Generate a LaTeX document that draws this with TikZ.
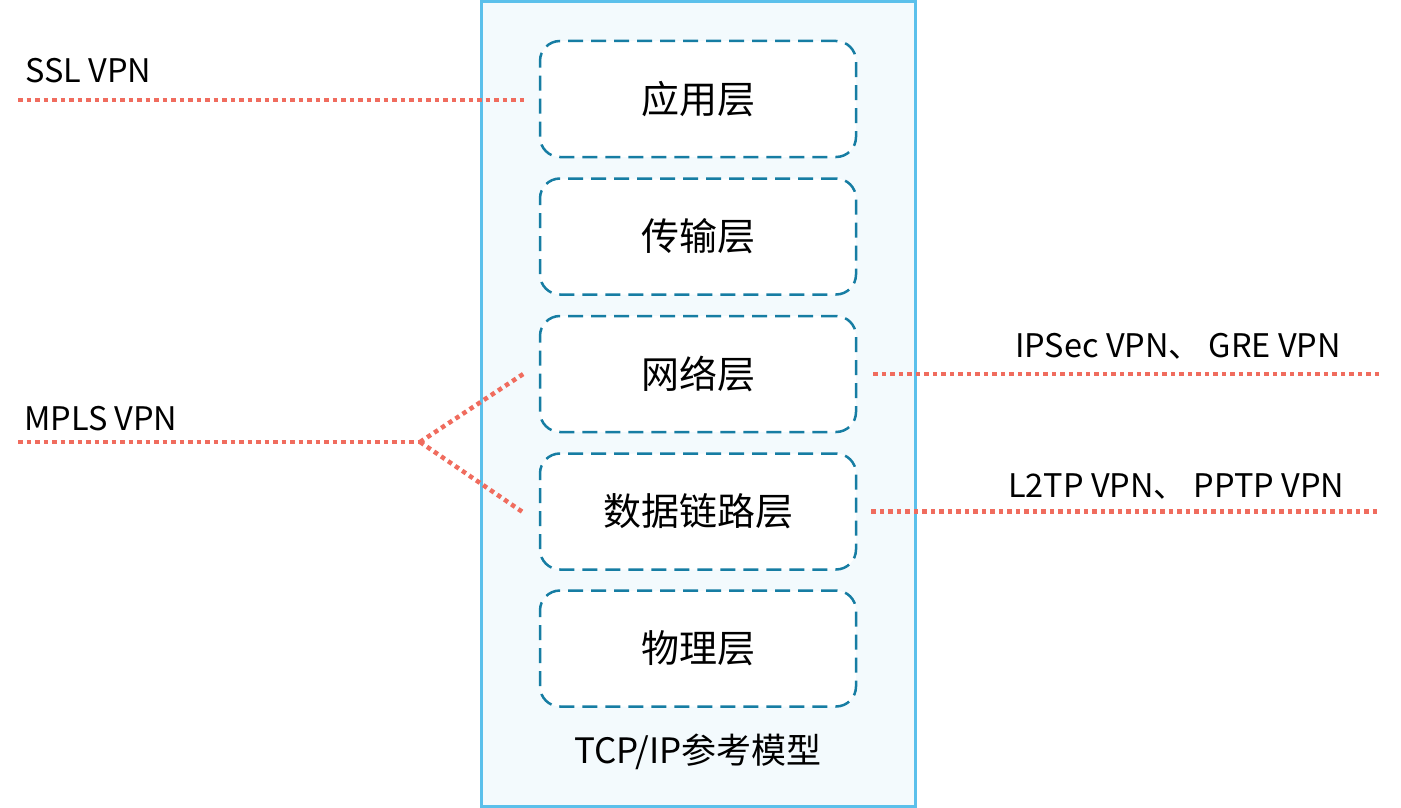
\documentclass[tikz,border=0pt]{standalone}
\usepackage{fontspec}
\setmainfont{Noto Sans CJK SC}
\usetikzlibrary{positioning, calc}

\definecolor{modelborder}{RGB}{91,192,235}
\definecolor{modelfill}{RGB}{243,250,253}
\definecolor{layerborder}{RGB}{22,125,163}
\definecolor{vpnred}{RGB}{240,108,94}

\begin{document}
\begin{tikzpicture}[
			x=1pt, y=-1pt,
			model/.style={rectangle, draw=modelborder, line width=3pt, fill=modelfill, minimum width=434pt, minimum height=804pt},
			layer/.style={rectangle, rounded corners=20pt, draw=layerborder, line width=2.5pt, dash pattern=on 15pt off 8pt, fill=white, minimum width=316pt, minimum height=116pt, align=center, font=\fontsize{38}{40}\selectfont},
			vpnline/.style={draw=vpnred, line width=4.5pt, dash pattern=on 4.5pt off 4pt},
			vpnlabel/.style={anchor=base west, inner sep=0pt, font=\fontsize{32.5}{36}\selectfont}
			]
			
			\useasboundingbox (0,0) rectangle (1401,808);
			
			% TCP/IP model and its layers
			\node[model] (tcpip) at (698,404) {};
			\node[layer] (app) at (698,99) {应用层};
			\node[layer] (trans) at (698,236.5) {传输层};
			\node[layer] (net) at (698,374) {网络层};
			\node[layer] (link) at (698,511.5) {数据链路层};
			\node[layer] (phy) at (698,648.5) {物理层};
			\node[font=\fontsize{35}{38}\selectfont] (title) at (698,752) {TCP/IP参考模型};
			
			% VPN labels
			\node[vpnlabel] (ssl) at (25,82) {SSL VPN};
			\node[vpnlabel] (mpls) at (24,430) {MPLS VPN};
			\node[vpnlabel] (ipsec) at (1015,357) {IPSec VPN、 GRE VPN};
			\node[vpnlabel] (l2tp) at (1008,497) {L2TP VPN、 PPTP VPN};
			
			\coordinate (sslstart) at (18,100);
			\coordinate (mplsstart) at (18,442);
			\coordinate (mplsfork) at (420,442);
			\coordinate (ipsecend) at (1382,374);
			\coordinate (l2tpend) at (1380,511.5);
			
			% VPN connections
			\draw[vpnline, shorten >=12pt] (sslstart) -- (app.west |- sslstart);
			\draw[vpnline] (mplsstart) -- (mplsfork);
			\draw[vpnline] (mplsfork) -- ($(net.west)+(-14,-1)$);
			\draw[vpnline] (mplsfork) -- ($(link.west)+(-14,2)$);
			\draw[vpnline, shorten <=16pt] (net.east) -- (ipsecend);
			\draw[vpnline, shorten <=14pt] (link.east) -- (l2tpend);
		\end{tikzpicture}
\end{document}
